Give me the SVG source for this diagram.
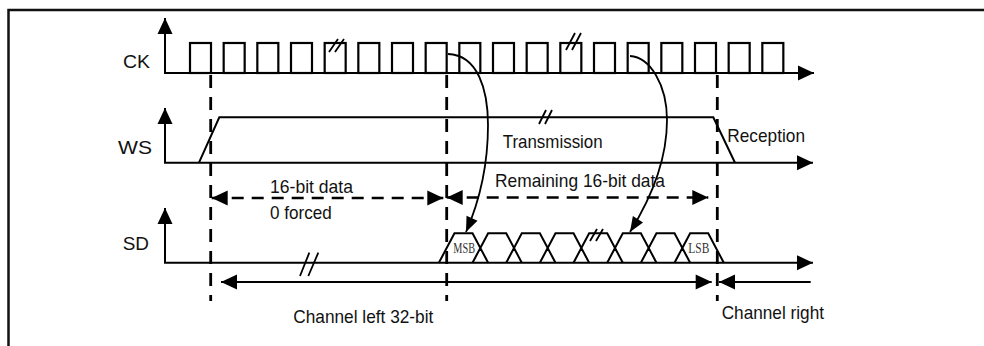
<svg xmlns="http://www.w3.org/2000/svg" width="984" height="346" viewBox="0 0 984 346">
<style>
.ln{fill:none;stroke:#000;stroke-width:2}
.ax{fill:none;stroke:#000;stroke-width:2;marker-start:url(#ah);marker-end:url(#ah)}
.pl{fill:none;stroke:#000;stroke-width:2.2}
.dash{fill:none;stroke:#000;stroke-width:2.8;stroke-dasharray:13 9}
.darr{fill:none;stroke:#000;stroke-width:2.6;stroke-dasharray:12 8}
.brk{fill:none;stroke:#000;stroke-width:1.8}
.crv{fill:none;stroke:#000;stroke-width:1.8;marker-end:url(#ch)}
.t{font-family:"Liberation Sans",Arial,sans-serif;font-size:19px;fill:#111}
.s{font-family:"Liberation Serif","Times New Roman",serif;font-size:15px;fill:#333}
</style>
<defs>
<marker id="ah" markerUnits="userSpaceOnUse" markerWidth="16" markerHeight="15" refX="16" refY="7.5" orient="auto-start-reverse" overflow="visible">
<path d="M0,0 L16,7.5 L0,15 z" fill="#000"/>
</marker>
<marker id="ch" markerUnits="userSpaceOnUse" markerWidth="15" markerHeight="12" refX="15" refY="6" orient="auto" overflow="visible">
<path d="M0,0 L15,6 L0,12 z" fill="#000"/>
</marker>
</defs>
<rect width="984" height="346" fill="#fff"/>
<path d="M8.5,346 V10 H984" fill="none" stroke="#111" stroke-width="2.5"/>

<g id="ck">
<path class="ax" d="M165,18 V73 H814"/>
<g class="pl">
<rect x="190" y="43" width="21" height="30"/>
<rect x="223.67" y="43" width="21" height="30"/>
<rect x="257.33" y="43" width="21" height="30"/>
<rect x="291" y="43" width="21" height="30"/>
<rect x="324.67" y="43" width="21" height="30"/>
<rect x="358.33" y="43" width="21" height="30"/>
<rect x="392" y="43" width="21" height="30"/>
<rect x="425.67" y="43" width="21" height="30"/>
<rect x="459.33" y="43" width="21" height="30"/>
<rect x="493" y="43" width="21" height="30"/>
<rect x="526.67" y="43" width="21" height="30"/>
<rect x="560.33" y="43" width="21" height="30"/>
<rect x="594" y="43" width="21" height="30"/>
<rect x="627.67" y="43" width="21" height="30"/>
<rect x="661.33" y="43" width="21" height="30"/>
<rect x="695" y="43" width="21" height="30"/>
<rect x="728.67" y="43" width="21" height="30"/>
<rect x="762.33" y="43" width="21" height="30"/>
</g>
<path class="brk" d="M329,52 L338,39 M335,52 L344,39"/>
<path class="brk" d="M566,50 L575,33 M572,50 L581,33"/>
<text class="t" x="123" y="67.5" textLength="27" lengthAdjust="spacingAndGlyphs">CK</text>
</g>

<g id="ws">
<path class="ax" d="M165,108 V162.7 H813"/>
<path class="ln" d="M199,162.7 L219.3,117.3 H713.3 L735,162.7"/>
<path class="brk" d="M539,124 L546,110 M545,124 L552,110"/>
<text class="t" x="118" y="154" textLength="34" lengthAdjust="spacingAndGlyphs">WS</text>
<text class="t" x="502.7" y="148.3" textLength="100" lengthAdjust="spacingAndGlyphs">Transmission</text>
<text class="t" x="727.3" y="141.7" textLength="77.7" lengthAdjust="spacingAndGlyphs">Reception</text>
</g>

<g id="sd">
<path class="ax" d="M165,208 V262.7 H813"/>
<path class="ln" d="M438.87,262.7 L454.47,233.3 H472.53 L488.13,262.7 M472.53,262.7 L488.13,233.3 H506.2 L521.8,262.7 M506.2,262.7 L521.8,233.3 H539.87 L555.47,262.7 M539.87,262.7 L555.47,233.3 H573.53 L589.13,262.7 M573.53,262.7 L589.13,233.3 H607.2 L622.8,262.7 M607.2,262.7 L622.8,233.3 H640.87 L656.47,262.7 M640.87,262.7 L656.47,233.3 H674.53 L690.13,262.7 M674.53,262.7 L690.13,233.3 H708.2 L723.8,262.7"/>
<path class="brk" d="M590,241 L597,229 M596,241 L603,229"/>
<path class="brk" d="M300,276 L309.3,252.7 M308.3,276 L318.3,252.7"/>
<text class="t" x="122.7" y="250" textLength="26.3" lengthAdjust="spacingAndGlyphs">SD</text>
<text class="s" x="453.3" y="253" textLength="21.7" lengthAdjust="spacingAndGlyphs">MSB</text>
<text class="s" x="688.3" y="253" textLength="21" lengthAdjust="spacingAndGlyphs">LSB</text>
</g>

<g id="connectors">
<path class="dash" d="M210.7,75 V301"/>
<path class="dash" d="M446.7,75 V301"/>
<path class="dash" d="M717.3,75 V301"/>
<path class="darr" d="M211.7,198 H443.3" marker-start="url(#ah)" marker-end="url(#ah)"/>
<path class="darr" d="M446.7,197.5 H708.3" marker-start="url(#ah)" marker-end="url(#ah)"/>
<path class="ln" d="M221,282 H711.7" marker-start="url(#ah)" marker-end="url(#ah)"/>
<path class="ln" d="M810.7,282 H719" marker-end="url(#ah)"/>
<path class="crv" d="M448,54 C478,55 488,90 488,125 C488,165 480,200 466,232"/>
<path class="crv" d="M630,56 C650,57 667,85 667,120 C667,160 650,200 630,232"/>
</g>

<g id="labels">
<text class="t" x="270" y="193" textLength="83" lengthAdjust="spacingAndGlyphs">16-bit data</text>
<text class="t" x="270" y="219" textLength="61.7" lengthAdjust="spacingAndGlyphs">0 forced</text>
<text class="t" x="495" y="186.5" textLength="170" lengthAdjust="spacingAndGlyphs">Remaining 16-bit data</text>
<text class="t" x="293.3" y="323.3" textLength="140" lengthAdjust="spacingAndGlyphs">Channel left 32-bit</text>
<text class="t" x="721.7" y="319" textLength="102.3" lengthAdjust="spacingAndGlyphs">Channel right</text>
</g>
</svg>
